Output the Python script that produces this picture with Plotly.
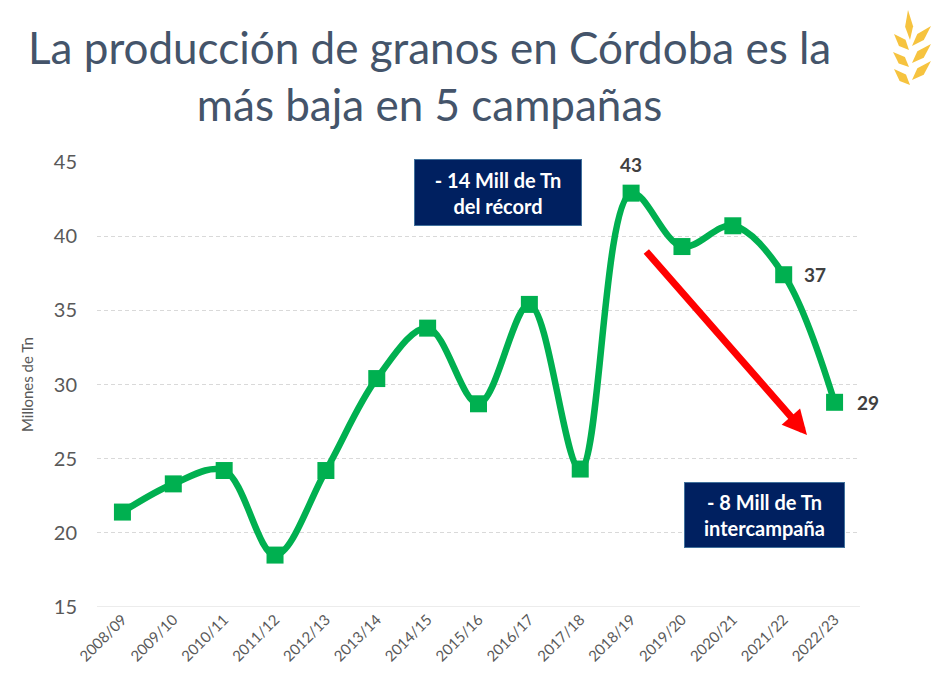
import plotly.graph_objects as go
import math

# ---------------- data ----------------
campaigns = ["2008/09", "2009/10", "2010/11", "2011/12", "2012/13", "2013/14", "2014/15",
             "2015/16", "2016/17", "2017/18", "2018/19", "2019/20", "2020/21", "2021/22", "2022/23"]
production = [21.4, 23.3, 24.2, 18.5, 24.2, 30.4, 33.8, 28.7, 35.4, 24.3, 42.9, 39.3, 40.7, 37.4, 28.8]
labelled = {"2018/19": "43", "2021/22": "37", "2022/23": "29"}
y_ticks = [15, 20, 25, 30, 35, 40, 45]

W, H = 946, 689
L, R, T, B = 97, 86, 162, 82
PW, PH = W - L - R, H - T - B

def px_x(px):
    return (px - L) / PW

def px_y(py):
    return (H - B - py) / PH

GREEN = "#00B050"
NAVY = "#002060"
FONT = "Lato"

fig = go.Figure()
fig.add_trace(go.Scatter(
    x=campaigns, y=production, mode="lines+markers",
    line=dict(color=GREEN, width=6.5, shape="spline", smoothing=1.0),
    marker=dict(symbol="square", size=17, color=GREEN),
    hoverinfo="x+y", showlegend=False, cliponaxis=False,
))

annotations = []
# data labels
shifts = {"2018/19": (0, 29), "2021/22": (31, 0), "2022/23": (33, 0)}
for c, txt in labelled.items():
    i = campaigns.index(c)
    xs, ys = shifts[c]
    annotations.append(dict(
        x=c, y=production[i], text=f"<b>{txt}</b>", showarrow=False,
        xanchor="center", yanchor="middle",
        xshift=xs, yshift=ys, font=dict(family=FONT, size=19, color="#404040"),
    ))

# boxes
box_font = dict(family=FONT, size=20, color="white")
annotations.append(dict(
    xref="paper", yref="paper", x=px_x(498), y=px_y(192.5),
    xanchor="center", yanchor="middle",
    text="<b>- 14 Mill de Tn<br>del récord</b>", showarrow=False,
    font=box_font, bgcolor=NAVY, width=158, height=57,
    bordercolor="#41719C", borderwidth=1, borderpad=4, align="center",
))
annotations.append(dict(
    xref="paper", yref="paper", x=px_x(764.5), y=px_y(515),
    xanchor="center", yanchor="middle",
    text="<b>- 8 Mill de Tn<br>intercampaña</b>", showarrow=False,
    font=box_font, bgcolor=NAVY, width=151, height=56,
    bordercolor="#41719C", borderwidth=1, borderpad=4, align="center",
))

# red arrow
annotations.append(dict(
    xref="paper", yref="paper", x=px_x(807), y=px_y(435),
    axref="pixel", ayref="pixel", ax=645 - 807, ay=250 - 435,
    text="", showarrow=True, arrowcolor="#FF0000", arrowwidth=7,
    arrowhead=2, arrowsize=0.7,
))

# title
annotations.append(dict(
    xref="paper", yref="paper", x=px_x(429), y=px_y(75),
    xanchor="center", yanchor="middle",
    text="La producción de granos en Córdoba es la<br>más baja en 5 campañas",
    showarrow=False, font=dict(family=FONT, size=44, color="#44546A"),
    align="center",
))

# y axis title
annotations.append(dict(
    xref="paper", yref="paper", x=px_x(27), y=px_y(385),
    xanchor="center", yanchor="middle",
    text="Millones de Tn", textangle=-90, showarrow=False,
    font=dict(family=FONT, size=15, color="#595959"),
))

# wheat logo shapes
shapes = []
GOLD = "#F6C33F"

def leaf(tip, base, w):
    tx, ty = tip
    bx, by = base
    dx, dy = bx - tx, by - ty
    ln = math.hypot(dx, dy)
    nx, ny = -dy / ln * w, dx / ln * w
    mx, my = tx + dx * 0.55, ty + dy * 0.55
    pts = [(tx, ty), (mx + nx, my + ny), (bx, by), (mx - nx, my - ny)]
    path = "M " + " L ".join(f"{px_x(p[0]):.5f},{px_y(p[1]):.5f}" for p in pts) + " Z"
    return dict(type="path", xref="paper", yref="paper", path=path,
                fillcolor=GOLD, line=dict(width=0), layer="above")

shapes.append(leaf((908, 10), (910, 40), 4))
for tip, base in [((894, 34), (909, 50)), ((893, 52), (909, 67)), ((894, 69), (910, 85))]:
    shapes.append(leaf(tip, base, 4.5))
for tip, base in [((931, 26), (912, 46)), ((931, 44), (912, 63)), ((931, 61), (912, 80))]:
    shapes.append(leaf(tip, base, 4.5))

fig.update_layout(
    width=W, height=H,
    margin=dict(l=L, r=R, t=T, b=B, autoexpand=False),
    paper_bgcolor="white", plot_bgcolor="white",
    font=dict(family=FONT, color="#595959"),
    xaxis=dict(
        type="category", range=[-0.5, 14.5], tickangle=-45, showgrid=False, zeroline=False,
        showline=False, ticks="", automargin=False,
        tickfont=dict(family=FONT, size=15, color="#595959"),
    ),
    yaxis=dict(
        range=[15, 45], tickvals=y_ticks, showgrid=True, gridcolor="#D9D9D9",
        griddash="4px,3px", gridwidth=1, zeroline=False, showline=False, ticks="",
        automargin=False,
        tickfont=dict(family=FONT, size=20, color="#595959"), ticklabelstandoff=19,
    ),
    annotations=annotations,
    shapes=shapes + [dict(type="line", xref="paper", yref="y", x0=0, x1=1, y0=15, y1=15,
                          line=dict(color="#D9D9D9", width=1), layer="below")],
)

fig.write_html("out.html")
